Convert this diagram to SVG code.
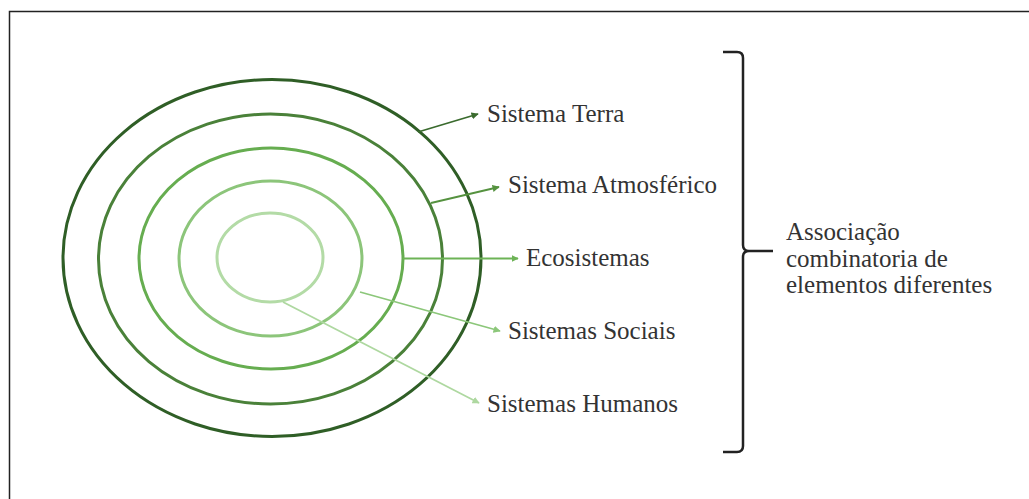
<svg xmlns="http://www.w3.org/2000/svg" width="1029" height="499" viewBox="0 0 1029 499">
<style>
  .ring{fill:none;stroke-width:3}
  .lbl{font-family:'Liberation Serif','Times New Roman',Times,serif;font-size:25px;fill:#333}
  .conn{stroke-width:1.8;fill:none}
</style>
<defs>
  <marker id="a1" viewBox="0 0 10 10" refX="9" refY="5" markerWidth="4" markerHeight="4" orient="auto"><path d="M0,0L10,5L0,10z" fill="#3a6b2e"/></marker>
  <marker id="a2" viewBox="0 0 10 10" refX="9" refY="5" markerWidth="4" markerHeight="4" orient="auto"><path d="M0,0L10,5L0,10z" fill="#55923f"/></marker>
  <marker id="a3" viewBox="0 0 10 10" refX="9" refY="5" markerWidth="4" markerHeight="4" orient="auto"><path d="M0,0L10,5L0,10z" fill="#6db356"/></marker>
  <marker id="a4" viewBox="0 0 10 10" refX="9" refY="5" markerWidth="4" markerHeight="4" orient="auto"><path d="M0,0L10,5L0,10z" fill="#8cc77a"/></marker>
  <marker id="a5" viewBox="0 0 10 10" refX="9" refY="5" markerWidth="4" markerHeight="4" orient="auto"><path d="M0,0L10,5L0,10z" fill="#aed8a0"/></marker>
</defs>
<rect width="1029" height="499" fill="#fff"/>
<path d="M9.5,499V11.5H1029" fill="none" stroke="#222" stroke-width="1.5"/>

<g id="terra"><ellipse class="ring" cx="272" cy="258" rx="209" ry="178.5" stroke="#2f5e26"/><text class="lbl" x="487" y="122">Sistema Terra</text></g>
<g id="atmosferico"><ellipse class="ring" cx="270.5" cy="259" rx="172" ry="145" stroke="#4a8139"/><text class="lbl" x="508" y="193">Sistema Atmosférico</text></g>
<g id="ecosistemas"><ellipse class="ring" cx="271" cy="258.5" rx="132" ry="110.5" stroke="#66ad50"/><text class="lbl" x="526" y="266">Ecosistemas</text></g>
<g id="sociais"><ellipse class="ring" cx="270.5" cy="258.5" rx="91.5" ry="77.5" stroke="#8cc57a"/><text class="lbl" x="508" y="339">Sistemas Sociais</text></g>
<g id="humanos"><ellipse class="ring" cx="270" cy="257.5" rx="53" ry="44.5" stroke="#b3dba6"/><text class="lbl" x="487" y="411.5">Sistemas Humanos</text></g>

<g id="associacao">
  <path d="M723,52H737Q743,52 743,58V245Q743,251 749,251H773M749,251Q743,251 743,257V446Q743,452 737,452H723" fill="none" stroke="#222" stroke-width="2.5"/>
  <text class="lbl" x="786" y="240">Associação</text>
  <text class="lbl" x="786" y="266.5">combinatoria de</text>
  <text class="lbl" x="786" y="293">elementos diferentes</text>
</g>

<g id="connectors">
  <line class="conn" x1="418" y1="132" x2="478" y2="114" stroke="#3a6b2e" marker-end="url(#a1)"/>
  <line class="conn" x1="431" y1="203" x2="499" y2="187" stroke="#55923f" marker-end="url(#a2)"/>
  <line class="conn" x1="403" y1="258.5" x2="518" y2="258.5" stroke="#6db356" marker-end="url(#a3)"/>
  <line class="conn" x1="360" y1="292" x2="500" y2="331" stroke="#8cc77a" marker-end="url(#a4)"/>
  <line class="conn" x1="283" y1="302" x2="479" y2="403" stroke="#aed8a0" marker-end="url(#a5)"/>
</g>
</svg>
